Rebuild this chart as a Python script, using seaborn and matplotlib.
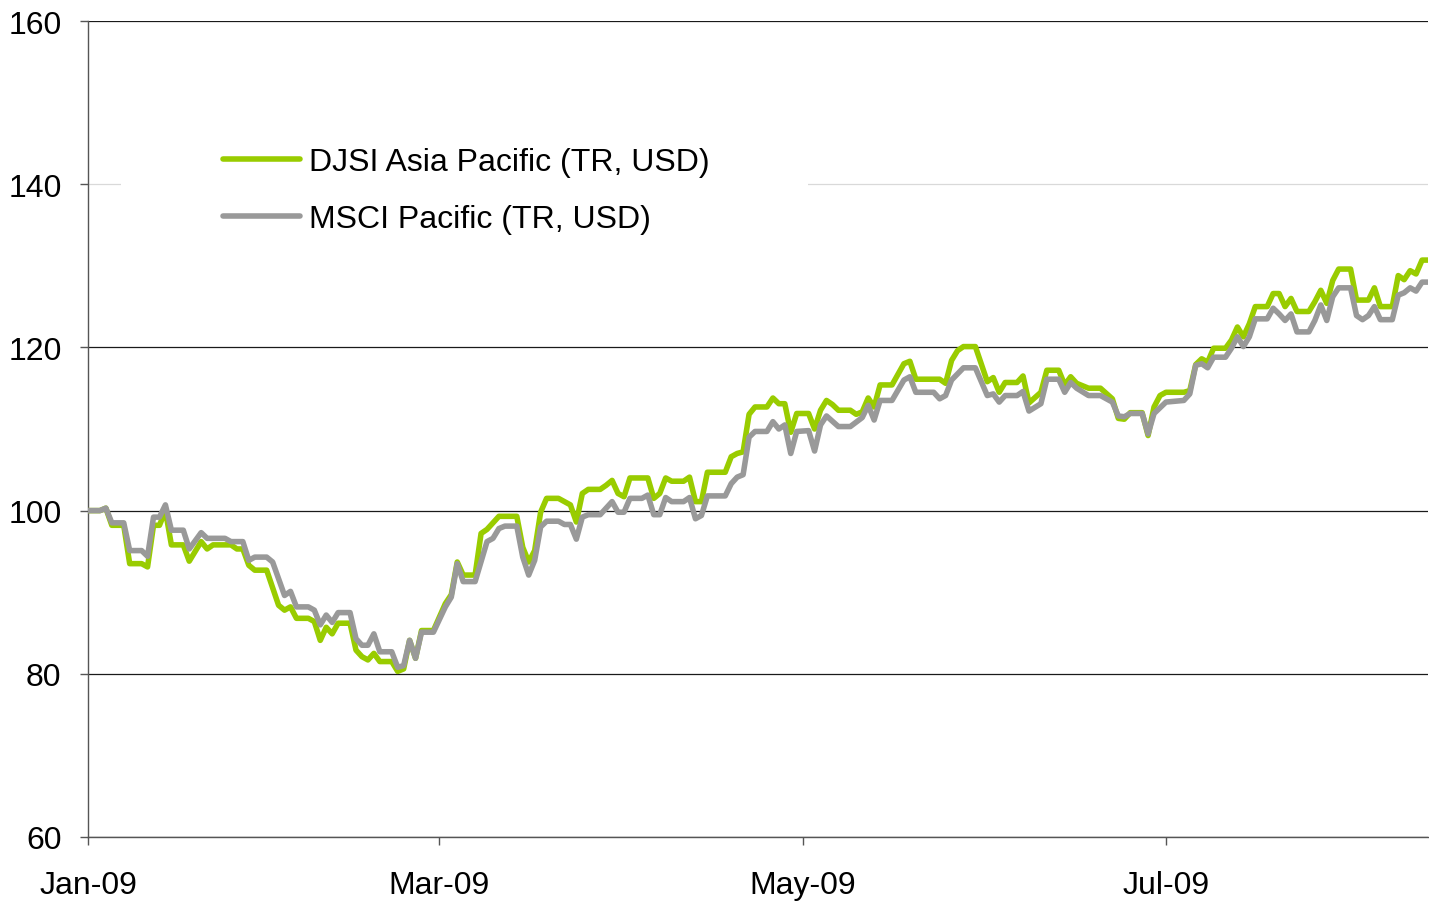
import numpy as np
import pandas as pd
import matplotlib
matplotlib.use("Agg")
import matplotlib.pyplot as plt
import matplotlib.dates as mdates
from matplotlib.patches import Rectangle
import seaborn as sns

# ---------------- data ----------------
series_labels = ["DJSI Asia Pacific (TR, USD)", "MSCI Pacific (TR, USD)"]
start_date = "2009-01-01"

# days after 2009-01-01
djsi_day = [0, 2, 3, 4, 6, 7, 9, 10, 11, 12, 13, 14, 16, 17, 19, 20, 21, 24, 25, 26,
            27, 28, 30, 32, 33, 34, 35, 37, 38, 39, 40, 41, 42, 44, 45, 46, 47, 48, 49, 51,
            52, 53, 54, 55, 56, 58, 60, 61, 62, 63, 65, 66, 67, 69, 72, 73, 74, 75, 76, 77,
            79, 81, 82, 83, 84, 86, 87, 88, 89, 90, 91, 94, 95, 96, 97, 98, 100, 101, 102, 103,
            104, 107, 108, 109, 110, 111, 112, 114, 115, 116, 117, 118, 119, 121, 122, 123, 124, 125, 126, 128,
            129, 130, 131, 132, 133, 135, 137, 138, 139, 143, 144, 145, 146, 147, 149, 151, 152, 153, 154, 156,
            157, 158, 160, 161, 163, 164, 165, 166, 168, 170, 172, 173, 174, 175, 177, 178, 179, 180, 181, 184,
            185, 186, 187, 188, 189, 191, 192, 193, 194, 195, 196, 198, 199, 200, 201, 202, 203, 205, 206, 207,
            208, 209, 210, 212, 213, 215, 216, 217, 219, 220, 221, 222, 223, 224, 225]
djsi = [100.0, 100.0, 100.3, 98.2, 98.2, 93.5, 93.5, 93.1, 98.2, 98.2, 100.0, 95.8, 95.8, 93.8, 96.2, 95.3, 95.8, 95.8, 95.3, 95.3,
        93.3, 92.7, 92.7, 88.4, 87.8, 88.2, 86.8, 86.8, 86.4, 84.1, 85.7, 84.9, 86.2, 86.2, 82.9, 82.1, 81.7, 82.5, 81.5, 81.5,
        80.3, 80.6, 84.1, 81.9, 85.3, 85.3, 88.6, 89.7, 93.7, 92.1, 92.1, 97.2, 97.7, 99.3, 99.3, 95.5, 93.7, 95.1, 99.8, 101.5,
        101.5, 100.7, 98.6, 102.1, 102.6, 102.6, 103.1, 103.7, 102.1, 101.7, 104.0, 104.0, 101.5, 102.1, 104.0, 103.6, 103.6, 104.1, 101.1, 101.1,
        104.7, 104.7, 106.6, 107.0, 107.2, 111.8, 112.7, 112.7, 113.8, 113.1, 113.1, 109.6, 111.9, 111.9, 110.0, 112.3, 113.5, 113.0, 112.3, 112.3,
        111.8, 112.1, 113.8, 112.7, 115.4, 115.4, 118.0, 118.3, 116.1, 116.1, 115.6, 118.4, 119.6, 120.1, 120.1, 115.8, 116.3, 114.5, 115.7, 115.7,
        116.5, 113.2, 114.5, 117.2, 117.2, 115.4, 116.4, 115.6, 115.0, 115.0, 113.7, 111.3, 111.2, 112.0, 112.0, 109.2, 112.7, 114.1, 114.5, 114.5,
        114.7, 117.9, 118.6, 118.2, 119.9, 119.9, 120.9, 122.5, 121.3, 122.9, 125.0, 125.0, 126.6, 126.6, 125.0, 126.0, 124.4, 124.4, 125.6, 127.0,
        125.4, 128.2, 129.6, 129.6, 125.8, 125.8, 127.3, 125.0, 125.0, 128.8, 128.3, 129.4, 129.0, 130.7, 130.7]

msci_day = [0, 2, 3, 4, 6, 7, 9, 10, 11, 12, 13, 14, 16, 17, 19, 20, 23, 24, 26, 27,
            28, 30, 31, 33, 34, 35, 37, 38, 39, 40, 41, 42, 44, 45, 46, 47, 48, 49, 51, 52,
            53, 54, 55, 56, 58, 60, 61, 62, 63, 65, 67, 68, 69, 70, 72, 73, 74, 75, 76, 77,
            79, 80, 81, 82, 83, 84, 86, 88, 89, 90, 91, 93, 94, 95, 96, 97, 98, 100, 101, 102,
            103, 104, 107, 108, 109, 110, 111, 112, 114, 115, 116, 117, 118, 119, 121, 122, 123, 124, 126, 128,
            130, 131, 132, 133, 135, 137, 138, 139, 142, 143, 144, 145, 147, 149, 151, 152, 153, 154, 156, 157,
            158, 160, 161, 163, 164, 165, 166, 168, 170, 172, 173, 174, 175, 177, 178, 179, 181, 184, 185, 186,
            187, 188, 189, 191, 192, 193, 194, 195, 196, 198, 199, 200, 201, 202, 203, 205, 206, 207, 208, 209,
            210, 212, 213, 214, 215, 216, 217, 219, 220, 221, 222, 223, 224, 225]
msci = [100.0, 100.0, 100.3, 98.5, 98.5, 95.1, 95.1, 94.4, 99.2, 99.2, 100.7, 97.6, 97.6, 95.3, 97.3, 96.6, 96.6, 96.2, 96.2, 93.9,
        94.3, 94.3, 93.7, 89.6, 90.1, 88.2, 88.2, 87.8, 86.0, 87.2, 86.3, 87.5, 87.5, 84.3, 83.5, 83.5, 84.9, 82.7, 82.7, 80.8,
        81.0, 84.1, 81.9, 85.1, 85.1, 88.2, 89.4, 93.5, 91.3, 91.3, 96.2, 96.6, 97.8, 98.1, 98.1, 94.3, 92.1, 93.9, 98.0, 98.7,
        98.7, 98.3, 98.3, 96.5, 99.2, 99.5, 99.5, 101.1, 99.8, 99.8, 101.5, 101.5, 101.9, 99.5, 99.5, 101.6, 101.1, 101.1, 101.6, 99.0,
        99.4, 101.8, 101.8, 103.3, 104.1, 104.4, 109.0, 109.7, 109.7, 110.9, 110.0, 110.5, 107.0, 109.7, 109.8, 107.3, 110.5, 111.6, 110.3, 110.3,
        111.4, 112.9, 111.1, 113.5, 113.5, 116.0, 116.4, 114.5, 114.5, 113.7, 114.1, 116.0, 117.5, 117.5, 114.1, 114.3, 113.3, 114.1, 114.1, 114.6,
        112.2, 113.1, 116.1, 116.1, 114.5, 115.7, 115.0, 114.1, 114.1, 113.3, 111.6, 111.5, 111.9, 111.9, 109.4, 111.9, 113.3, 113.5, 114.3, 117.8,
        118.0, 117.5, 118.8, 118.8, 119.9, 121.3, 120.1, 121.3, 123.5, 123.5, 124.8, 124.1, 123.3, 124.1, 121.9, 121.9, 123.3, 125.2, 123.3, 126.2,
        127.3, 127.3, 123.9, 123.4, 123.9, 125.0, 123.4, 123.4, 126.4, 126.7, 127.3, 126.9, 128.0, 128.0]

y_ticks = [60, 80, 100, 120, 140, 160]
x_tick_months = [1, 3, 5, 7]
x_end_day = 225

# ---------------- styling ----------------
green = "#99CC00"
gray = "#999999"

sns.set_theme(style="white")
plt.rcParams["font.family"] = ["Liberation Sans", "DejaVu Sans"]

t0 = pd.Timestamp(start_date)
df = pd.concat([
    pd.DataFrame({"date": t0 + pd.to_timedelta(djsi_day, unit="D"), "value": djsi,
                  "series": series_labels[0]}),
    pd.DataFrame({"date": t0 + pd.to_timedelta(msci_day, unit="D"), "value": msci,
                  "series": series_labels[1]}),
], ignore_index=True)

W, H = 1429, 903
fig = plt.figure(figsize=(W / 100, H / 100), dpi=100)
ax = fig.add_axes([88 / W, 1 - 838 / H, 1340 / W, 816 / H])

sns.lineplot(data=df, x="date", y="value", hue="series", hue_order=series_labels,
             palette=[green, gray], linewidth=4.0, estimator=None, sort=False,
             legend=False, ax=ax, zorder=3)
for ln in ax.get_lines():
    ln.set_solid_capstyle("round")
    ln.set_solid_joinstyle("round")

ax.set_xlim(t0, t0 + pd.Timedelta(days=x_end_day))
ax.set_ylim(y_ticks[0], y_ticks[-1])
ax.set_yticks(y_ticks)
ax.xaxis.set_major_locator(mdates.MonthLocator(bymonth=x_tick_months))
ax.xaxis.set_major_formatter(mdates.DateFormatter("%b-%y"))
ax.set_xlabel("")
ax.set_ylabel("")

ax.grid(axis="y", color="#1a1a1a", linewidth=0.9)
ax.grid(axis="x", visible=False)
for val, gl in zip(y_ticks, ax.get_ygridlines()):
    if val == 140:
        gl.set_color("#d9d9d9")
ax.set_axisbelow(True)

for s in ["top", "right"]:
    ax.spines[s].set_visible(False)
for s in ["left", "bottom"]:
    ax.spines[s].set_color("#555555")
    ax.spines[s].set_linewidth(1.0)

ax.tick_params(axis="both", which="major", direction="out", length=6,
               width=1.0, color="#555555", labelsize=23, labelcolor="black",
               bottom=True, left=True)
ax.tick_params(axis="y", pad=13)
ax.tick_params(axis="x", pad=18)

# white legend background hiding part of the 140 gridline
ax.add_patch(Rectangle((33 / 1340, (838 - 250) / 816), (808 - 121) / 1340, 120 / 816,
                       transform=ax.transAxes, facecolor="white", edgecolor="none",
                       zorder=2))

handles = ax.get_lines()[:2]
leg = fig.legend(handles, series_labels, loc="upper left",
                 bbox_to_anchor=(223 / W, 1 - 148 / H), frameon=False, fontsize=23,
                 handlelength=2.4, handletextpad=0.3, labelspacing=0.85,
                 borderpad=0, borderaxespad=0)
for t in leg.get_texts():
    t.set_color("black")

fig.savefig("out.png", dpi=100, facecolor="white")
